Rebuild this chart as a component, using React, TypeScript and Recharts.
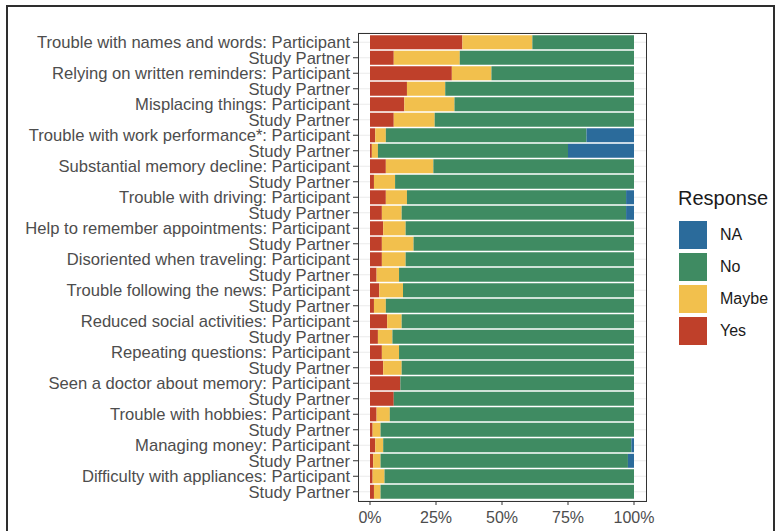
import React from 'react';
import { BarChart, Bar, XAxis, YAxis, CartesianGrid } from 'recharts';

// survey items, top to bottom; each has a Participant row and a Study Partner row
const ITEMS = [
  'Trouble with names and words',
  'Relying on written reminders',
  'Misplacing things',
  'Trouble with work performance*',
  'Substantial memory decline',
  'Trouble with driving',
  'Help to remember appointments',
  'Disoriented when traveling',
  'Trouble following the news',
  'Reduced social activities',
  'Repeating questions',
  'Seen a doctor about memory',
  'Trouble with hobbies',
  'Managing money',
  'Difficulty with appliances',
];

// percentages per row (Participant, Study Partner alternating)
const YES = [
  35, 9, 31, 14, 13, 9, 2, 0.7, 6, 1.5, 6, 4.5, 5, 4.5, 4.5,
  2.5, 3.5, 1.5, 6.5, 3, 4.5, 5, 11.5, 9, 2.5, 1, 2, 1.2, 1, 1.5,
];
const MAYBE = [
  26.5, 25, 15, 14.5, 19, 15.5, 4, 2.3, 18, 8, 8, 7.5, 8.5, 12, 9,
  8.5, 9, 4.5, 5.5, 5.5, 6.5, 7, 0, 0, 5, 3, 3, 2.8, 4.5, 2.5,
];
const NO = [
  38.5, 66, 54, 71.5, 68, 75.5, 76, 72, 76, 90.5, 83, 85, 86.5, 83.5, 86.5,
  89, 87.5, 94, 88, 91.5, 89, 88, 88.5, 91, 92.5, 96, 94, 93.7, 94.5, 96,
];
const NA = [
  0, 0, 0, 0, 0, 0, 18, 25, 0, 0, 3, 3, 0, 0, 0,
  0, 0, 0, 0, 0, 0, 0, 0, 0, 0, 0, 1, 2.3, 0, 0,
];

const X_TICKS = [0, 25, 50, 75, 100];

const COLORS = {
  NA: '#2b6b9b',
  No: '#3f8b62',
  Maybe: '#f2c04d',
  Yes: '#bf402a',
};

const LEGEND = ['NA', 'No', 'Maybe', 'Yes'] as const;

const FONT = '"Liberation Sans", Arial, sans-serif';

const data = ITEMS.flatMap((item, i) => [
  { row: `${item}: Participant`, i: i * 2 },
  { row: `${item}: Study Partner`, i: i * 2 + 1 },
]).map((d) => ({
  row: d.row,
  Yes: YES[d.i],
  Maybe: MAYBE[d.i],
  No: NO[d.i],
  NA: NA[d.i],
}));

const yLabel = (v: string) => (v.endsWith(': Study Partner') ? 'Study Partner' : v);

export default function App() {
  return (
    <div
      style={{
        position: 'fixed',
        left: 0,
        top: 0,
        width: 775,
        height: 531,
        overflow: 'hidden',
        background: '#fff',
        fontFamily: FONT,
      }}
    >
      {/* outer frame */}
      <div
        style={{
          position: 'absolute',
          left: 6,
          top: 5,
          width: 765,
          height: 600,
          border: '2px solid #2e2e2e',
        }}
      />

      <div style={{ position: 'absolute', left: 0, top: 0 }}>
        <BarChart
          width={775}
          height={531}
          data={data}
          layout="vertical"
          barCategoryGap="5%"
          margin={{ top: 33, right: 129, bottom: 0, left: 0 }}
        >
          <CartesianGrid vertical={false} stroke="#ebebeb" />
          <XAxis
            type="number"
            domain={[0, 100]}
            ticks={X_TICKS}
            tickFormatter={(v) => `${v}%`}
            padding={{ left: 12, right: 12 }}
            axisLine={false}
            tickLine={{ stroke: '#333' }}
            tickSize={4}
            tickMargin={7}
            height={30}
            tick={{ fill: '#4d4d4d', fontSize: 16, fontFamily: FONT }}
          />
          <YAxis
            type="category"
            dataKey="row"
            width={358}
            interval={0}
            padding={{ top: 1.5, bottom: 1.5 }}
            tickFormatter={yLabel}
            axisLine={false}
            tickLine={{ stroke: '#333' }}
            tickSize={5}
            tickMargin={3}
            tick={{ fill: '#4d4d4d', fontSize: 16.6, fontFamily: FONT }}
          />
          <Bar dataKey="Yes" stackId="s" fill={COLORS.Yes} isAnimationActive={false} />
          <Bar dataKey="Maybe" stackId="s" fill={COLORS.Maybe} isAnimationActive={false} />
          <Bar dataKey="No" stackId="s" fill={COLORS.No} isAnimationActive={false} />
          <Bar dataKey="NA" stackId="s" fill={COLORS.NA} isAnimationActive={false} />
        </BarChart>
      </div>

      {/* panel border */}
      <div
        style={{
          position: 'absolute',
          left: 358,
          top: 33,
          width: 287,
          height: 467,
          border: '1px solid #333',
          pointerEvents: 'none',
        }}
      />

      {/* legend */}
      <div style={{ position: 'absolute', left: 678, top: 186 }}>
        <div style={{ fontSize: 20, color: '#1a1a1a', marginBottom: 9, lineHeight: '24px' }}>
          Response
        </div>
        {LEGEND.map((k) => (
          <div key={k} style={{ display: 'flex', alignItems: 'center', height: 32 }}>
            <div
              style={{
                width: 30,
                height: 30,
                background: COLORS[k],
                border: '1px solid #fff',
                boxSizing: 'border-box',
              }}
            />
            <span style={{ marginLeft: 12, fontSize: 16, color: '#1a1a1a' }}>{k}</span>
          </div>
        ))}
      </div>
    </div>
  );
}
